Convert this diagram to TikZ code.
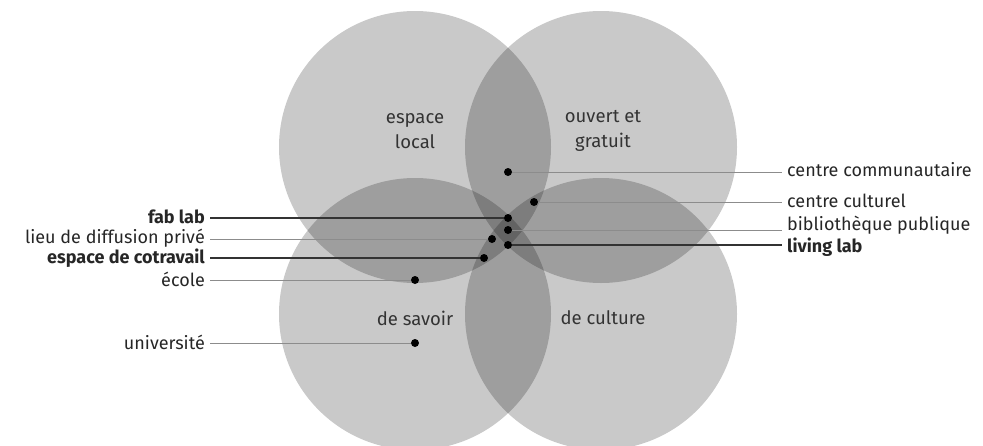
\documentclass[tikz,border=0pt]{standalone}
\usepackage{fontspec}
\setmainfont{Fira Sans}
\usepackage{tikz}

\tikzset{
	zone/.style = {fill = black, fill opacity = 0.21, draw = none},
	dot/.style = {circle, fill = black, inner sep = 0pt, minimum size = 8pt},
	tag/.style = {font = \fontsize{18}{18}\selectfont, text = black!85, inner sep = 5pt},
	boldtag/.style = {tag, font = \fontsize{18}{18}\selectfont\bfseries},
	zonetag/.style = {font = \fontsize{18.5}{25}\selectfont, text = black!80, align = center},
	fine/.style = {draw = black!45, line width = 1pt},
	heavy/.style = {draw = black!80, line width = 2pt}
}

\begin{document}
\begin{tikzpicture}[x = 1pt, y = -1pt]
			\useasboundingbox (0,0) rectangle (983,445);
			\begin{scope}
				\fill[zone] (415,147) circle (136);
				\fill[zone] (601,147) circle (136);
				\fill[zone] (415,314) circle (136);
				\fill[zone] (601,314) circle (136);
			\end{scope}
			\node[zonetag] (local) at (415,131) {espace\\local};
			\node[zonetag] (gratuit) at (603,131) {ouvert et\\gratuit};
			\node[zonetag] (savoir) at (415,318) {de savoir};
			\node[zonetag] (culture) at (603,318) {de culture};

			% points
			\node[dot] (pcomm) at (508,172) {};
			\node[dot] (pcult) at (534,202) {};
			\node[dot] (pfab) at (508,218) {};
			\node[dot] (pbib) at (508,230) {};
			\node[dot] (plieu) at (492,239) {};
			\node[dot] (pliving) at (508,245) {};
			\node[dot] (pcotra) at (484,258) {};
			\node[dot] (pecole) at (415,280) {};
			\node[dot] (puniv) at (415,343) {};

			% labels on the left
			\node[boldtag, anchor = east] (fab) at (210,217) {fab lab};
			\node[tag, anchor = east] (lieu) at (210,238) {lieu de diffusion privé};
			\node[boldtag, anchor = east] (cotra) at (210,258) {espace de cotravail};
			\node[tag, anchor = east] (ecole) at (210,279) {école};
			\node[tag, anchor = east] (univ) at (210,342) {université};

			% labels on the right
			\node[tag, anchor = west] (comm) at (782,170) {centre communautaire};
			\node[tag, anchor = west] (cult) at (782,201) {centre culturel};
			\node[tag, anchor = west] (bib) at (782,225) {bibliothèque publique};
			\node[boldtag, anchor = west] (living) at (782,247) {living lab};

			\draw[fine] (pcomm) -- (comm.west |- pcomm);
			\draw[fine] (pcult) -- (cult.west |- pcult);
			\draw[fine] (pbib) -- (bib.west |- pbib);
			\draw[heavy] (pliving) -- (living.west |- pliving);
			\draw[heavy] (pfab) -- (fab.east |- pfab);
			\draw[fine] (plieu) -- (lieu.east |- plieu);
			\draw[heavy] (pcotra) -- (cotra.east |- pcotra);
			\draw[fine] (pecole) -- (ecole.east |- pecole);
			\draw[fine] (puniv) -- (univ.east |- puniv);
		\end{tikzpicture}
\end{document}
